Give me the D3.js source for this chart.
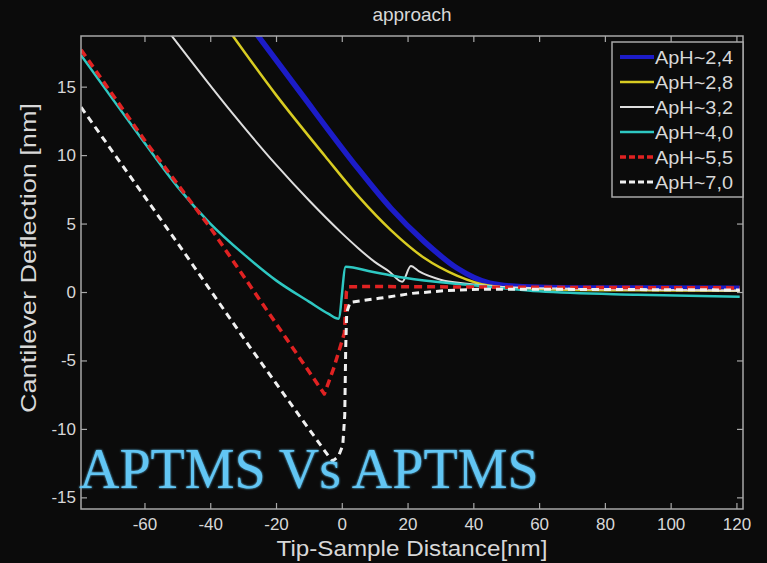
<!DOCTYPE html>
<html>
<head>
<meta charset="utf-8">
<script src="https://cdn.jsdelivr.net/npm/d3@7"></script>
<style>
  html, body { margin: 0; padding: 0; background: #0b0b0b; }
  svg { display: block; }
</style>
</head>
<body>
<svg id="chart" width="767" height="563"></svg>
<script>
// Approach curves: [distance nm, deflection nm]
const aph24 = [[-27, 19.2], [-13, 14.7], [5, 9.0], [15, 6.1], [25, 3.7], [35, 1.75], [45, 0.65], [55, 0.38], [70, 0.3], [95, 0.3], [121, 0.28]];
const aph28 = [[-34, 19], [-20, 14.4], [-5, 9.9], [5, 7.0], [15, 4.5], [25, 2.5], [35, 1.2], [45, 0.45], [60, 0.2], [90, 0.12], [121, 0.1]];
const aph32 = [[-52, 18.8], [-33.4, 13.1], [-20, 9.3], [-10, 6.7], [0, 4.3], [5, 3.2], [10, 2.2], [14.4, 1.5], [18.4, 0.75], [21, 1.9], [23.5, 1.5], [30, 0.9], [38, 0.6], [50, 0.35], [80, 0.2], [121, 0.1]];
const aph40 = [[-79.3, 17.3], [-70, 14.2], [-60, 10.9], [-50, 7.7], [-40, 5.0], [-30, 2.8], [-20, 0.85], [-10, -0.7], [-4, -1.6], [-1, -1.95], [1.2, 1.85], [9.2, 1.48], [17.4, 1.1], [28.6, 0.75], [39.6, 0.5], [60, 0.05], [90, -0.2], [121, -0.35]];
const aph55 = [[-79.3, 17.7], [-60, 11.1], [-40, 4.7], [-22, -1.6], [-5.3, -7.45], [-2.5, -5.6], [0.8, -3.0], [1.4, 0], [2.2, 0.39], [10, 0.4], [50, 0.35], [121, 0.3]];
const aph70 = [[-79.3, 13.5], [-50, 3.6], [-28, -4.0], [-4, -12.0], [-2.8, -12.35], [-1, -12.0], [0.3, -11.2], [0.9, -9], [1.2, -4], [1.5, -1.5], [2.5, -0.75], [11.3, -0.46], [21.4, -0.1], [31.5, 0.1], [41.7, 0.2], [60, 0.2], [121, 0.15]];

const seriesNames = ["ApH~2,4", "ApH~2,8", "ApH~3,2", "ApH~4,0", "ApH~5,5", "ApH~7,0"];
const seriesData = [aph24, aph28, aph32, aph40, aph55, aph70];
const xTicks = [-60, -40, -20, 0, 20, 40, 60, 80, 100, 120];
const yTicks = [-15, -10, -5, 0, 5, 10, 15];

const styles = [
  { color: "#1c1cc8", width: 5.5, dash: null, curve: d3.curveMonotoneX },
  { color: "#d8cc22", width: 2.5, dash: null, curve: d3.curveMonotoneX },
  { color: "#dedede", width: 2, dash: null, curve: d3.curveMonotoneX },
  { color: "#2ec8c2", width: 2.5, dash: null, curve: d3.curveMonotoneX },
  { color: "#e02222", width: 3.5, dash: "8,5", curve: d3.curveLinear },
  { color: "#f0f0f0", width: 3, dash: "7,5", curve: d3.curveLinear },
];

const LEFT = 81, RIGHT = 743, TOP = 36, BOTTOM = 509;
const TICK_LEN = 6;
const AXIS_COLOR = "#a8a8a8";
const TEXT_COLOR = "#d8d8d8";
const FONT = "'Liberation Sans', Arial, sans-serif";

const svg = d3.select("#chart");
svg.append("rect").attr("width", 767).attr("height", 563).attr("fill", "#0b0b0b");

const x = d3.scaleLinear().domain([-79.3, 122]).range([LEFT, RIGHT]);
const y = d3.scaleLinear().domain([-15.85, 18.7]).range([BOTTOM, TOP]);

svg.append("clipPath").attr("id", "plotClip")
  .append("rect")
  .attr("x", LEFT).attr("y", TOP)
  .attr("width", RIGHT - LEFT).attr("height", BOTTOM - TOP);

// curves, first series at the back
svg.append("g")
  .attr("clip-path", "url(#plotClip)")
  .selectAll("path")
  .data(seriesData)
  .join("path")
  .attr("d", (d, i) => d3.line()
    .x((p) => x(p[0]))
    .y((p) => y(p[1]))
    .curve(styles[i].curve)(d))
  .attr("fill", "none")
  .attr("stroke", (d, i) => styles[i].color)
  .attr("stroke-width", (d, i) => styles[i].width)
  .attr("stroke-dasharray", (d, i) => styles[i].dash)
  .attr("stroke-linejoin", "round");

// axes box with inward ticks on all four sides
function styleAxis(g) {
  g.select(".domain").remove();
  g.selectAll(".tick line").attr("stroke", AXIS_COLOR).attr("stroke-width", 1.2);
  g.selectAll("text")
    .attr("fill", TEXT_COLOR)
    .attr("font-family", FONT)
    .attr("font-size", 17);
}
const plain = (d) => String(d);

svg.append("g")
  .attr("transform", `translate(0,${BOTTOM})`)
  .call(d3.axisBottom(x).tickValues(xTicks).tickFormat(plain).tickSizeInner(-TICK_LEN).tickPadding(9).tickSizeOuter(0))
  .call(styleAxis);

svg.append("g")
  .attr("transform", `translate(0,${TOP})`)
  .call(d3.axisTop(x).tickValues(xTicks).tickSizeInner(-TICK_LEN).tickFormat("").tickSizeOuter(0))
  .call(styleAxis);

svg.append("g")
  .attr("transform", `translate(${LEFT},0)`)
  .call(d3.axisLeft(y).tickValues(yTicks).tickFormat(plain).tickSizeInner(-TICK_LEN).tickPadding(5).tickSizeOuter(0))
  .call(styleAxis);

svg.append("g")
  .attr("transform", `translate(${RIGHT},0)`)
  .call(d3.axisRight(y).tickValues(yTicks).tickSizeInner(-TICK_LEN).tickFormat("").tickSizeOuter(0))
  .call(styleAxis);

svg.append("rect")
  .attr("x", LEFT).attr("y", TOP)
  .attr("width", RIGHT - LEFT).attr("height", BOTTOM - TOP)
  .attr("fill", "none")
  .attr("stroke", AXIS_COLOR)
  .attr("stroke-width", 1.5);

// title and axis labels
svg.append("text")
  .attr("x", 412).attr("y", 21)
  .attr("text-anchor", "middle")
  .attr("fill", TEXT_COLOR)
  .attr("font-family", FONT)
  .attr("font-size", 19)
  .text("approach");

svg.append("text")
  .attr("x", 412).attr("y", 556)
  .attr("text-anchor", "middle")
  .attr("fill", TEXT_COLOR)
  .attr("font-family", FONT)
  .attr("font-size", 22)
  .attr("textLength", 271)
  .attr("lengthAdjust", "spacingAndGlyphs")
  .text("Tip-Sample Distance[nm]");

svg.append("text")
  .attr("transform", "translate(36,258) rotate(-90)")
  .attr("text-anchor", "middle")
  .attr("fill", TEXT_COLOR)
  .attr("font-family", FONT)
  .attr("font-size", 22)
  .attr("textLength", 310)
  .attr("lengthAdjust", "spacingAndGlyphs")
  .text("Cantilever Deflection [nm]");

// legend
const legend = svg.append("g");
legend.append("rect")
  .attr("x", 612).attr("y", 42)
  .attr("width", 131).attr("height", 155)
  .attr("fill", "#0b0b0b")
  .attr("stroke", AXIS_COLOR)
  .attr("stroke-width", 1.5);

const rows = legend.selectAll("g.row")
  .data(seriesNames)
  .join("g")
  .attr("class", "row")
  .attr("transform", (d, i) => `translate(0,${57 + i * 25})`);

rows.append("line")
  .attr("x1", 620).attr("x2", 654)
  .attr("stroke", (d, i) => styles[i].color)
  .attr("stroke-width", (d, i) => Math.min(styles[i].width, 4))
  .attr("stroke-dasharray", (d, i) => styles[i].dash ? "6,3" : null);

rows.append("text")
  .attr("x", 655).attr("y", 7)
  .attr("fill", TEXT_COLOR)
  .attr("font-family", FONT)
  .attr("font-size", 19)
  .attr("textLength", 78)
  .attr("lengthAdjust", "spacingAndGlyphs")
  .text((d) => d);

// overlay caption
const glow = svg.append("filter").attr("id", "glow");
glow.append("feGaussianBlur").attr("stdDeviation", 1.2).attr("result", "b");
const merge = glow.append("feMerge");
merge.append("feMergeNode").attr("in", "b");
merge.append("feMergeNode").attr("in", "SourceGraphic");

svg.append("text")
  .attr("x", 79).attr("y", 488)
  .attr("fill", "#62c6f4")
  .attr("font-family", "'Liberation Serif', 'Times New Roman', serif")
  .attr("font-size", 56)
  .attr("filter", "url(#glow)")
  .text("APTMS Vs APTMS");
</script>
</body>
</html>
